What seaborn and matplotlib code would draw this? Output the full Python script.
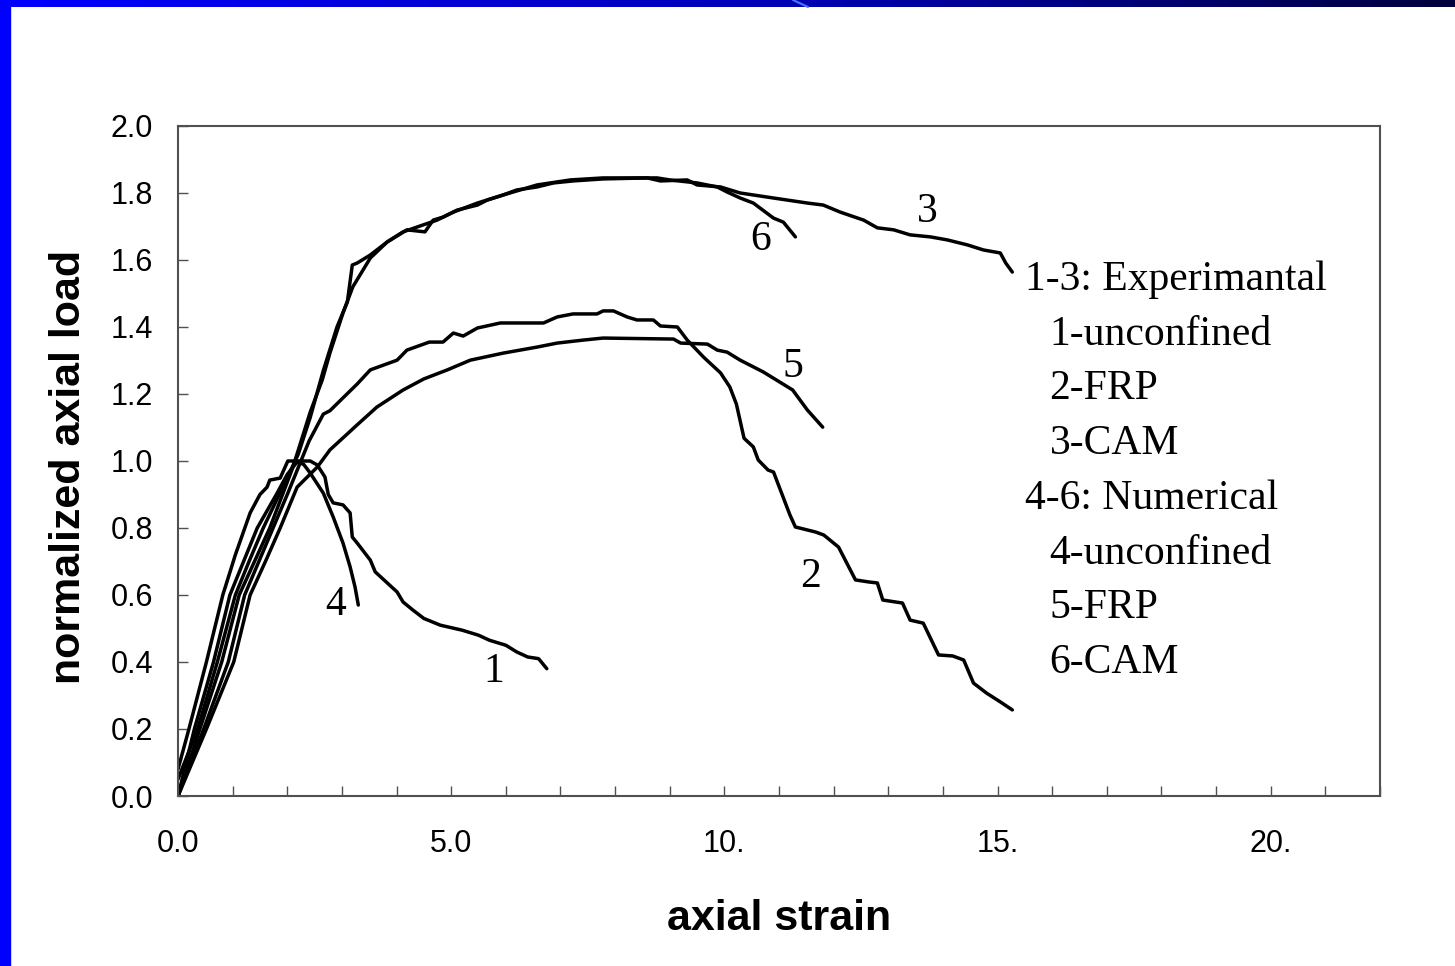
import numpy as np
import pandas as pd
import seaborn as sns
import matplotlib.pyplot as plt
from matplotlib.patches import Rectangle
from matplotlib.lines import Line2D
from matplotlib.ticker import MultipleLocator, FixedLocator

# curve 1 - experimental, unconfined
c1_x = [0, 0.2, 0.52, 0.82, 1.05, 1.32, 1.5, 1.63, 1.68, 1.87, 2.01, 2.42, 2.55,
        2.69, 2.75, 2.84, 3.02, 3.15, 3.19, 3.28, 3.52, 3.61, 3.83, 4.01, 4.12, 4.3, 4.5,
        4.8, 5.2, 5.5, 5.7, 6.0, 6.2, 6.4, 6.6, 6.75]
c1_y = [0.08, 0.2, 0.4, 0.6, 0.72, 0.845, 0.9, 0.922, 0.943, 0.949, 1.0, 1.0, 0.988,
        0.952, 0.9, 0.875, 0.869, 0.845, 0.773, 0.755, 0.704, 0.669, 0.636, 0.609, 0.579, 0.555, 0.53,
        0.51, 0.495, 0.48, 0.465, 0.45, 0.43, 0.415, 0.41, 0.38]

# curve 2 - experimental, FRP
c2_x = [0, 0.47, 0.92, 1.22, 1.48, 1.74, 2.0, 2.2, 2.4, 2.66, 2.78, 3.28, 3.52, 4.01, 4.19,
        4.6, 4.85, 5.04, 5.22, 5.48, 5.9, 6.69, 6.94, 7.23, 7.67, 7.78, 7.97, 8.22, 8.4, 8.7,
        8.83, 9.14, 9.32, 9.62, 9.93, 10.1, 10.22, 10.36, 10.53, 10.62, 10.8, 10.9, 11.2, 11.3,
        11.67, 11.82, 12.09, 12.4, 12.64, 12.8, 12.9, 13.26, 13.4, 13.64, 13.92, 14.18, 14.38,
        14.56, 14.8, 15.05, 15.27]
c2_y = [0, 0.2, 0.4, 0.6, 0.7, 0.8, 0.9, 0.98, 1.06, 1.14, 1.15, 1.23, 1.272, 1.301, 1.331,
        1.355, 1.355, 1.382, 1.373, 1.397, 1.412, 1.412, 1.43, 1.439, 1.439, 1.448, 1.448, 1.43, 1.421, 1.421,
        1.403, 1.4, 1.361, 1.31, 1.263, 1.221, 1.17, 1.068, 1.042, 1.003, 0.973, 0.967, 0.839, 0.803,
        0.788, 0.779, 0.743, 0.645, 0.639, 0.636, 0.585, 0.576, 0.525, 0.516, 0.421, 0.418, 0.406,
        0.337, 0.307, 0.281, 0.257]

# curve 3 - experimental, CAM
c3_x = [0, 0.36, 0.72, 1.05, 1.3, 1.56, 2.0, 2.2, 2.42, 2.66, 2.91, 3.1, 3.19, 3.28, 3.52,
        3.83, 4.19, 4.52, 4.67, 4.85, 5.11, 5.48, 5.66, 5.95, 6.2, 6.57, 6.87, 7.23, 7.78, 8.59,
        8.83, 9.32, 9.5, 9.93, 10.29, 10.9, 11.52, 11.81, 12.12, 12.55, 12.8, 13.1, 13.4, 13.77,
        14.08, 14.45, 14.74, 15.05, 15.15, 15.27]
c3_y = [0.05, 0.2, 0.4, 0.6, 0.7, 0.8, 0.95, 1.02, 1.13, 1.27, 1.4, 1.475, 1.585, 1.591, 1.615,
        1.654, 1.69, 1.684, 1.719, 1.728, 1.749, 1.764, 1.779, 1.794, 1.809, 1.818, 1.83, 1.836, 1.842, 1.845,
        1.836, 1.839, 1.824, 1.818, 1.8, 1.785, 1.77, 1.764, 1.743, 1.719, 1.696, 1.69, 1.675, 1.669,
        1.66, 1.645, 1.63, 1.621, 1.591, 1.564]

# curve 4 - numerical, unconfined
c4_x = [0, 0.3, 0.65, 0.95, 1.2, 1.45, 1.8, 2.0, 2.18, 2.3, 2.42, 2.66, 2.84, 3.02, 3.15, 3.24, 3.3]
c4_y = [0, 0.2, 0.4, 0.6, 0.7, 0.8, 0.9, 0.96, 0.997, 0.99, 0.964, 0.904, 0.833, 0.755, 0.684, 0.624, 0.57]

# curve 5 - numerical, FRP
c5_x = [0, 0.52, 1.02, 1.32, 1.6, 1.87, 2.18, 2.55, 2.78, 3.28, 3.64, 4.12, 4.5, 4.93, 5.35,
        5.95, 6.57, 6.94, 7.42, 7.78, 9.07, 9.2, 9.69, 9.87, 10.05, 10.29, 10.71, 11.25, 11.52, 11.8]
c5_y = [0, 0.2, 0.4, 0.6, 0.7, 0.8, 0.922, 0.982, 1.033, 1.108, 1.161, 1.212, 1.245, 1.272, 1.301,
        1.322, 1.34, 1.352, 1.361, 1.367, 1.364, 1.352, 1.349, 1.331, 1.325, 1.301, 1.266, 1.212, 1.152, 1.101]

# curve 6 - numerical, CAM
c6_x = [0, 0.4, 0.8, 1.12, 1.4, 1.68, 2.1, 2.42, 2.64, 2.78, 3.02, 3.2, 3.52, 3.83, 4.12,
        4.74, 5.04, 5.48, 5.95, 6.57, 7.18, 7.78, 8.77, 9.0, 9.5, 9.87, 10.05, 10.29, 10.53,
        10.9, 11.08, 11.3]
c6_y = [0, 0.2, 0.4, 0.6, 0.7, 0.8, 0.98, 1.146, 1.242, 1.322, 1.442, 1.52, 1.606, 1.654, 1.684,
        1.719, 1.743, 1.77, 1.794, 1.824, 1.839, 1.845, 1.845, 1.839, 1.83, 1.818, 1.803, 1.785, 1.77,
        1.725, 1.713, 1.669]

curves = [(c1_x, c1_y), (c2_x, c2_y), (c3_x, c3_y), (c4_x, c4_y), (c5_x, c5_y), (c6_x, c6_y)]

# curve number labels
label_names = ["1", "2", "3", "4", "5", "6"]
label_x = [5.77, 11.58, 13.72, 2.88, 11.25, 10.66]
label_y = [0.37, 0.654, 1.743, 0.57, 1.28, 1.66]

legend_lines = ["1-3: Experimantal", "1-unconfined", "2-FRP", "3-CAM",
                "4-6: Numerical", "4-unconfined", "5-FRP", "6-CAM"]
legend_indent = [False, True, True, True, False, True, True, True]

x_major = [0, 5, 10, 15, 20]
x_tick_labels = ["0.0", "5.0", "10.", "15.", "20."]

sns.set_theme(style="white")
plt.rcParams["font.family"] = ["Liberation Sans", "DejaVu Sans"]

W, H = 1455, 966
fig = plt.figure(figsize=(W / 100, H / 100), dpi=100)
fig.patch.set_facecolor("white")

ax = fig.add_axes([178 / W, 1 - 796 / H, (1380 - 178) / W, (796 - 126) / H])

for cx, cy in curves:
    df = pd.DataFrame({"x": cx, "y": cy})
    sns.lineplot(data=df, x="x", y="y", sort=False, estimator=None, color="black",
                 linewidth=2.5, ax=ax)

ax.set_xlim(0, 22)
ax.set_ylim(0, 2.0)
ax.xaxis.set_major_locator(FixedLocator(x_major))
ax.set_xticklabels(x_tick_labels)
ax.xaxis.set_minor_locator(MultipleLocator(1))
ax.yaxis.set_major_locator(MultipleLocator(0.2))
ax.yaxis.set_major_formatter(plt.FuncFormatter(lambda v, p: f"{v:.1f}"))

for side in ["left", "right", "top", "bottom"]:
    ax.spines[side].set_color("#505050")
    ax.spines[side].set_linewidth(1.5)

ax.tick_params(axis="both", which="both", direction="in", length=7, width=1,
               color="#505050", labelsize=22, labelcolor="black")
ax.tick_params(axis="x", which="both", bottom=True, top=False, pad=24)
ax.tick_params(axis="y", which="both", left=True, right=False, pad=18)

ax.set_xlabel("axial strain", fontsize=31, fontweight="bold", color="black")
ax.set_ylabel("normalized axial load", fontsize=31, fontweight="bold", color="black")
ax.xaxis.label.set_va("center")
ax.yaxis.label.set_va("center")
ax.xaxis.set_label_coords(0.5, (796 - 919) / 670)
ax.yaxis.set_label_coords((69 - 178) / 1202, 0.5 + (461 - 467) / 670)

serif = ["Liberation Serif", "DejaVu Serif"]
for name, lx, ly in zip(label_names, label_x, label_y):
    ax.text(lx, ly, name, fontsize=30, family=serif, ha="center", va="center", color="black")

for i, (line, indent) in enumerate(zip(legend_lines, legend_indent)):
    px = 1049 if indent else 1024
    py = 290 + 54.7 * i
    ax.text((px - 178) / 54.6, (796 - py) / 335, line, fontsize=30, family=serif,
            ha="left", va="baseline", color="black")

# slide frame: left blue strip and top gradient bar
fig.patches.append(Rectangle((0, 0), 10 / W, 1, transform=fig.transFigure,
                             color="#0000ff", zorder=10))
bar = fig.add_axes([0, 1 - 7 / H, 1, 7 / H])
pos = np.linspace(0, 1, 400)
blue = np.interp(pos, [0, 0.55, 1], [255, 180, 60]) / 255
grad = np.zeros((1, 400, 3))
grad[0, :, 2] = blue
bar.imshow(grad, aspect="auto", extent=[0, 1, 0, 1])
bar.axis("off")
fig.add_artist(Line2D([793 / W, 808 / W], [1, 1 - 7 / H], transform=fig.transFigure,
                      color="#4477ff", linewidth=1.5, zorder=11))

fig.savefig("out.png", dpi=100)
